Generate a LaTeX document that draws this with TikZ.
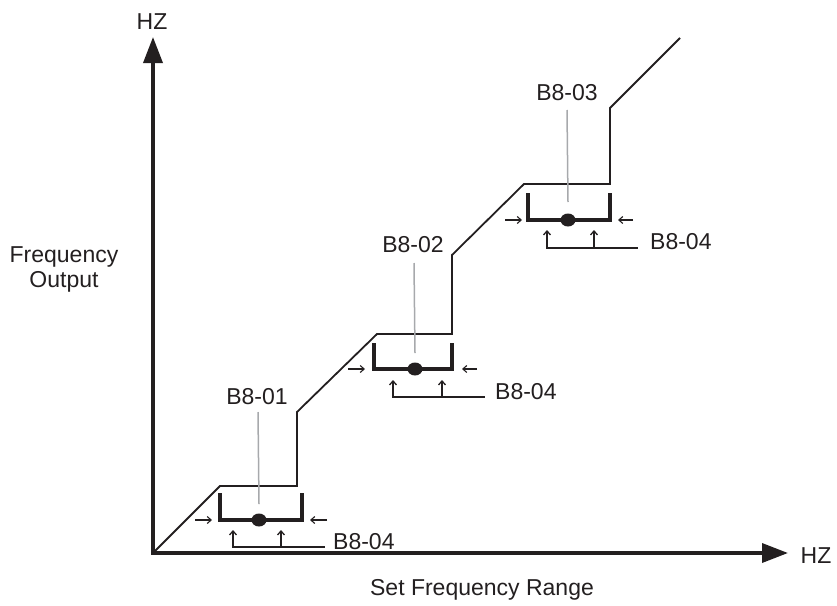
\documentclass[tikz,border=0pt]{standalone}
\usepackage{fontspec}
\setmainfont{Liberation Sans}
\usetikzlibrary{arrows.meta,shapes.geometric}
\definecolor{ink}{HTML}{231F20}
\definecolor{leadgray}{HTML}{A7A9AC}
\begin{document}
\begin{tikzpicture}[x=1pt,y=-1pt,
  lbl/.style={inner sep=0pt, text=ink, font=\fontsize{23}{25}\selectfont},
  axis/.style={draw=ink, line width=3.5pt, line cap=rect, -{Triangle[length=26pt,width=19pt]}},
  stairs/.style={draw=ink, line width=1.8pt, line join=miter},
  leader/.style={draw=leadgray, line width=1.5pt},
  bracketline/.style={draw=ink, line width=3.5pt, line join=miter},
  sidearrow/.style={draw=ink, line width=1.1pt, -{Straight Barb[length=4pt,width=7pt]}},
  treearrow/.style={draw=ink, line width=1.3pt, {Straight Barb[length=4pt,width=7pt]}-},
  dotmark/.style={ellipse, fill=ink, inner sep=0pt, minimum width=15pt, minimum height=13pt}
]
\useasboundingbox (0,0) rectangle (837,605);

% axes
\coordinate (o) at (153,553);
\coordinate (ytip) at (153,37);
\coordinate (xtip) at (788,553);
\draw[axis] (o) -- (ytip);
\draw[axis] (o) -- (xtip);
\node[lbl] (hzy) at (152,22) {HZ};
\node[lbl] (hzx) at (816,556) {HZ};
\node[lbl, align=center] (fo) at (64,269) {Frequency\\Output};
\node[lbl] (sfr) at (482,590) {Set Frequency Range};

% staircase
\draw[stairs] (o) -- (220,486) -- (297,486) -- (297,412) -- (377,334) -- (452,334)
  -- (452,255) -- (524,184) -- (610,184) -- (610,108) -- (680,38);

% ---------- bracket 1 ----------
\node[lbl] (l1) at (257,397) {B8-01};
\draw[bracketline] (220,493) -- (220,520) -- (302,520) -- (302,493);
\coordinate (d1c) at (259,520);
\draw[leader] (258,412) -- ([yshift=16pt]d1c);
\node[dotmark] (d1) at (d1c) {};
\draw[sidearrow] (195,520) -- (212,520);
\draw[sidearrow] (327,520) -- (310,520);
\node[lbl, anchor=west] (r1) at (333,542) {B8-04};
\coordinate (t1) at (325,547);
\draw[treearrow] (233,530) |- (t1);
\draw[treearrow] (281,530) -- (281,547);

% ---------- bracket 2 ----------
\node[lbl] (l2) at (413,245) {B8-02};
\draw[bracketline] (374,343) -- (374,369) -- (452,369) -- (452,343);
\coordinate (d2c) at (415,369);
\draw[leader] (414,263) -- ([yshift=16pt]d2c);
\node[dotmark] (d2) at (d2c) {};
\draw[sidearrow] (348,369) -- (365,369);
\draw[sidearrow] (477,369) -- (462,369);
\node[lbl, anchor=west] (r2) at (495,392) {B8-04};
\coordinate (t2) at (485,397);
\draw[treearrow] (393,380) |- (t2);
\draw[treearrow] (442,380) -- (442,397);

% ---------- bracket 3 ----------
\node[lbl] (l3) at (567,93) {B8-03};
\draw[bracketline] (528,193) -- (528,220) -- (610,220) -- (610,193);
\coordinate (d3c) at (568,220);
\draw[leader] (567,110) -- ([yshift=18pt]d3c);
\node[dotmark] (d3) at (d3c) {};
\draw[sidearrow] (505,220) -- (522,220);
\draw[sidearrow] (633,220) -- (618,220);
\node[lbl, anchor=west] (r3) at (650,242) {B8-04};
\coordinate (t3) at (638,248);
\draw[treearrow] (547,230) |- (t3);
\draw[treearrow] (594,230) -- (594,248);
\end{tikzpicture}
\end{document}
